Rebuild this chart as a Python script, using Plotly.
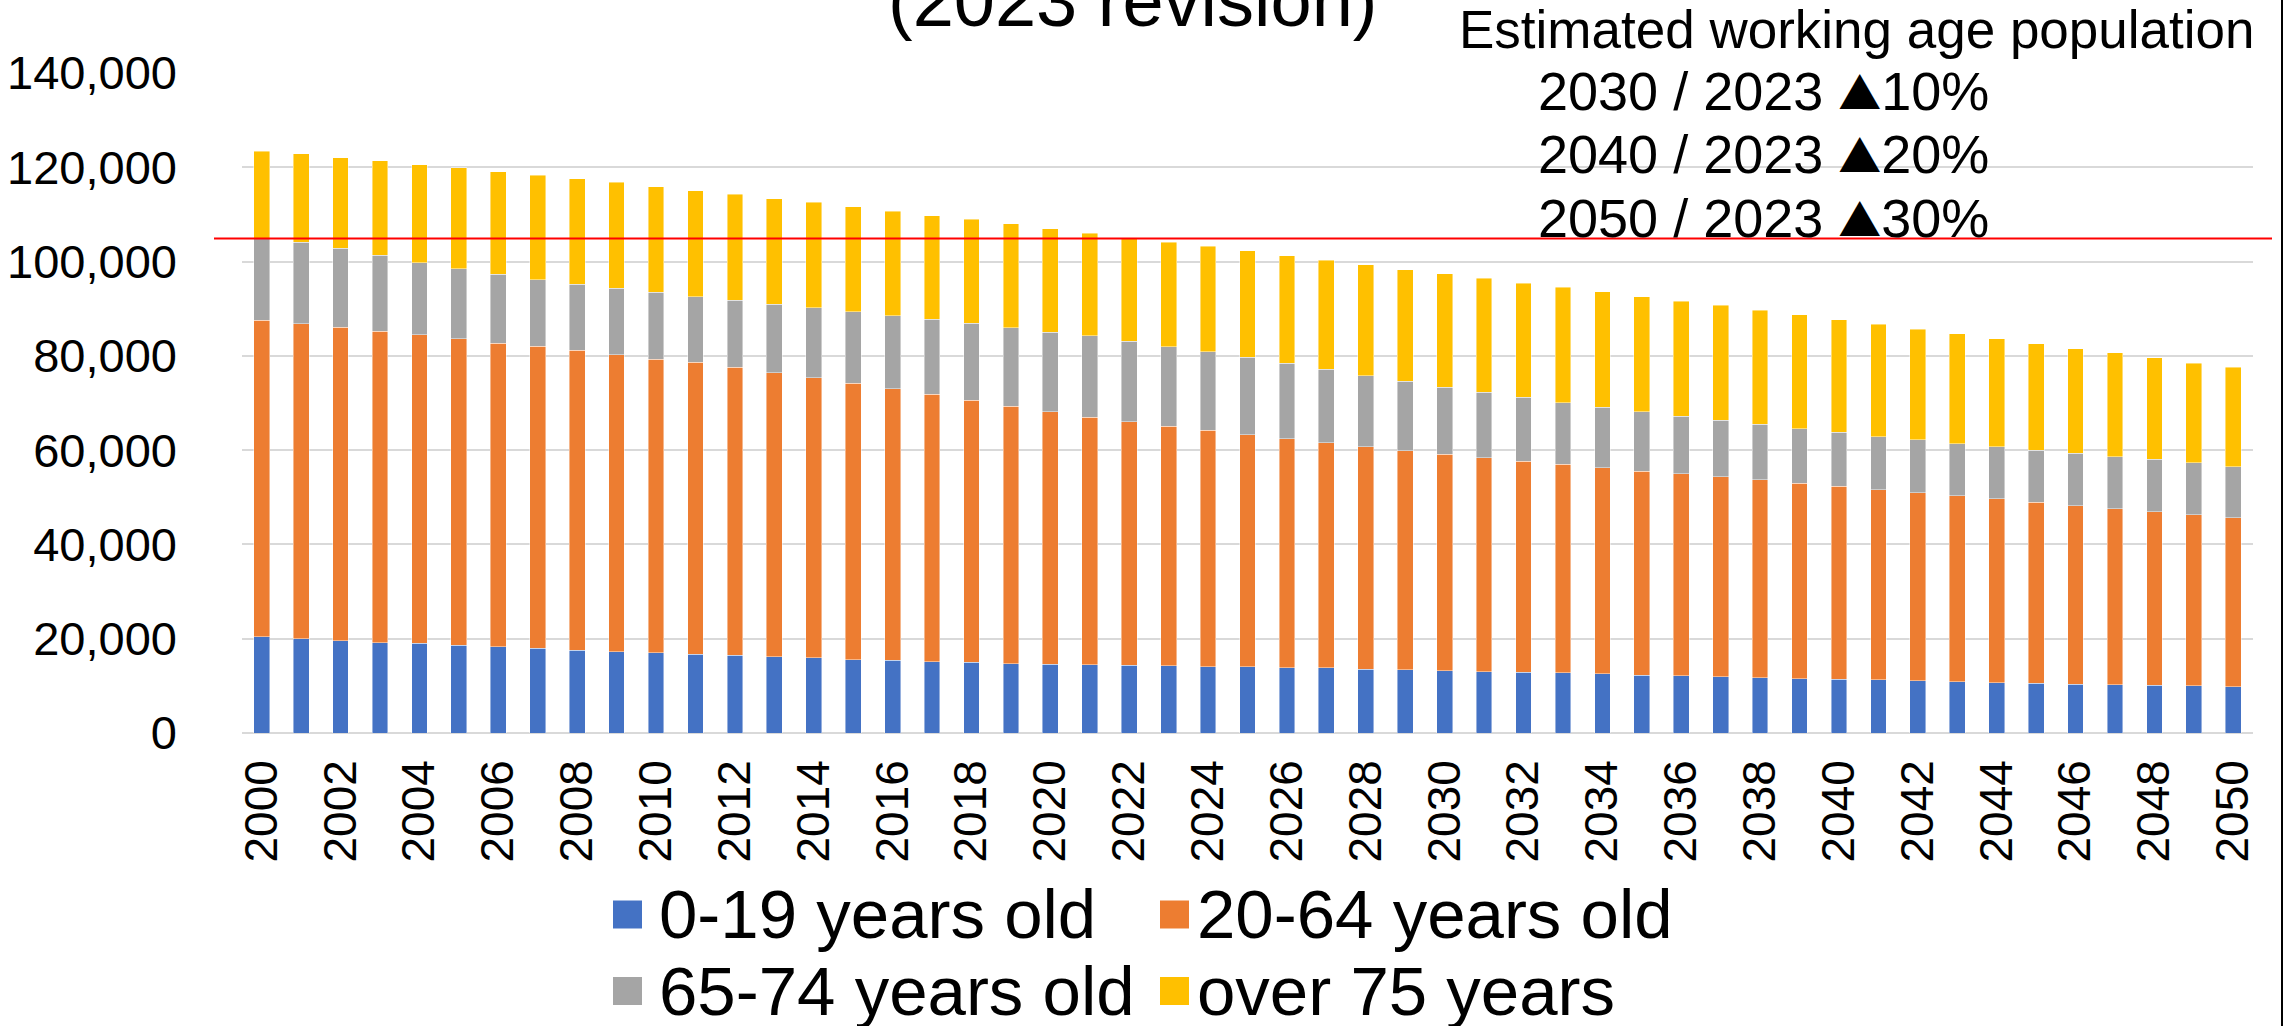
import plotly.graph_objects as go

# ---------------- data (thousands of people) ----------------
years = list(range(2000, 2051))

age_0_19 = [20420, 19980, 19620, 19180, 19010, 18570, 18300, 17950, 17600, 17250,
            17070, 16720, 16460, 16190, 15930, 15580, 15400, 15140, 14960, 14700,
            14610, 14520, 14340, 14260, 14050, 14020, 13800, 13800, 13570, 13420,
            13200, 12980, 12900, 12750, 12530, 12300, 12130, 11910, 11760, 11540,
            11360, 11290, 11070, 10850, 10630, 10560, 10380, 10230, 10120, 9980,
            9800]
age_20_64 = [67140, 66790, 66440, 66000, 65470, 65030, 64420, 64060, 63620, 63010,
             62220, 61950, 61160, 60280, 59400, 58610, 57640, 56670, 55620, 54560,
             53500, 52450, 51660, 50770, 50140, 49290, 48620, 47800, 47200, 46460,
             45940, 45410, 44740, 44220, 43770, 43250, 42910, 42460, 42010, 41480,
             40990, 40310, 39940, 39490, 39030, 38360, 37870, 37350, 36860, 36330,
             35910]
age_65_74 = [17250, 17340, 16810, 16190, 15220, 14870, 14610, 14170, 13990, 14080,
             14170, 13820, 14170, 14520, 14870, 15220, 15490, 15930, 16370, 16720,
             16900, 17250, 17070, 16950, 16710, 16410, 16030, 15590, 15060, 14690,
             14170, 13870, 13570, 13130, 12830, 12600, 12160, 12010, 11710, 11560,
             11410, 11260, 11190, 11040, 11040, 11110, 11110, 11040, 11040, 11040,
             10810]
age_75_over = [18570, 18740, 19180, 20060, 20860, 21470, 21740, 22090, 22350, 22440,
               22440, 22530, 22440, 22350, 22350, 22180, 22180, 22000, 22000, 22000,
               21910, 21740, 22000, 22120, 22310, 22600, 22820, 23040, 23490, 23710,
               24090, 24160, 24240, 24460, 24460, 24380, 24380, 24310, 24160, 24160,
               23940, 23860, 23420, 23270, 22890, 22520, 22150, 22000, 21550, 21100,
               21030]

series_names = ["0-19 years old", "20-64 years old", "65-74 years old", "over 75 years"]
series_colors = ["#4472C4", "#ED7D31", "#A5A5A5", "#FFC000"]
series_values = [age_0_19, age_20_64, age_65_74, age_75_over]

y_ticks = [0, 20000, 40000, 60000, 80000, 100000, 120000, 140000]
reference_level = 104900  # red reference line

title_text = "(2023 revision)"
TRI = '<span style="font-family:Noto Sans CJK JP;font-size:43px">\u25B2</span>'
note_lines = ["Estimated working age population",
              "2030 / 2023 " + TRI + "10%",
              "2040 / 2023 " + TRI + "20%",
              "2050 / 2023 " + TRI + "30%"]

# ---------------- geometry helpers (pixels -> paper) ----------------
W, H = 2285, 1026
L, R, T, B = 242, 2253, 73, 733


def px(x):
    return (x - L) / (R - L)


def py(y):
    return (B - y) / (B - T)


fig = go.Figure()
for name, color, vals in zip(series_names, series_colors, series_values):
    fig.add_trace(go.Bar(
        x=years, y=vals, name=name,
        marker=dict(color=color, line=dict(color="rgba(255,255,255,0.55)", width=0.8)),
        showlegend=False,
    ))

sans = "Liberation Sans, Arial, sans-serif"

fig.update_layout(
    template="none",
    width=W, height=H,
    margin=dict(l=L, r=W - R, t=T, b=H - B, pad=0, autoexpand=False),
    barmode="stack",
    bargap=0.6,
    plot_bgcolor="white",
    paper_bgcolor="white",
    font=dict(family=sans, color="black"),
    showlegend=False,
)
fig.update_xaxes(
    automargin=False,
    range=[1999.5, 2050.5],
    tickmode="linear", tick0=2000, dtick=2,
    tickangle=-90,
    tickfont=dict(family=sans, size=46, color="black"),
    showgrid=False, zeroline=False, showline=False, ticks="",
    ticklabelstandoff=17,
)
fig.update_yaxes(
    automargin=False,
    range=[0, 140000],
    tickmode="array",
    tickvals=y_ticks,
    tickformat=",d",
    tickfont=dict(family=sans, size=47, color="black"),
    showgrid=True, gridcolor="#d9d9d9", gridwidth=2,
    zeroline=True, zerolinecolor="#d9d9d9", zerolinewidth=2,
    showline=False, ticks="",
    ticklabelstandoff=64,
)

shapes = []
# red reference line
ref_y = reference_level / 140000
shapes.append(dict(type="line", xref="paper", yref="paper",
                   x0=px(214), x1=px(2272), y0=ref_y, y1=ref_y,
                   line=dict(color="#FF0000", width=2), layer="above"))
# right frame line
shapes.append(dict(type="line", xref="paper", yref="paper",
                   x0=px(2282), x1=px(2282), y0=py(0), y1=py(H),
                   line=dict(color="#000000", width=2), layer="above"))

# manual legend (2 x 2)
leg_cols = [(613, 657), (1160, 1195)]
leg_rows = [914.5, 991.0]
annotations = []
for i, (name, color) in enumerate(zip(series_names, series_colors)):
    r, c = divmod(i, 2)
    sx, tx = leg_cols[c]
    cy = leg_rows[r]
    shapes.append(dict(type="rect", xref="paper", yref="paper",
                       x0=px(sx), x1=px(sx + 29), y0=py(cy - 14), y1=py(cy + 14),
                       fillcolor=color, line=dict(width=0), layer="above"))
    annotations.append(dict(xref="paper", yref="paper", x=px(tx), y=py(cy),
                            xanchor="left", yanchor="middle", showarrow=False,
                            text=name, font=dict(family=sans, size=69, color="black")))

# title (partially cut at the top, as in the reference)
annotations.append(dict(xref="paper", yref="paper", x=px(1132), y=py(1),
                        xanchor="center", yanchor="middle", showarrow=False,
                        text=title_text, font=dict(family=sans, size=74, color="black")))
# note block
note_pos = [(1457, 29.0), (1536, 91.2), (1536, 154.2), (1536, 218.2)]
note_sizes = [53, 54, 54, 54]
for txt, (nx, ny), fs in zip(note_lines, note_pos, note_sizes):
    annotations.append(dict(xref="paper", yref="paper", x=px(nx), y=py(ny),
                            xanchor="left", yanchor="middle", showarrow=False,
                            text=txt, font=dict(family=sans, size=fs, color="black")))

fig.update_layout(shapes=shapes, annotations=annotations)

fig.write_html("out.html", config={"displayModeBar": False},
               post_script="document.body.style.margin='0';")
